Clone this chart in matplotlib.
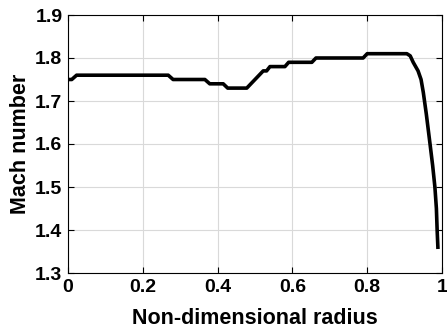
import numpy as np
import matplotlib.pyplot as plt

# radius vs mach number
radius = [0.0, 0.01, 0.023, 0.268, 0.281, 0.366, 0.379, 0.415, 0.427, 0.478,
          0.50, 0.522, 0.531, 0.54, 0.58, 0.59, 0.652, 0.663, 0.789, 0.80,
          0.906, 0.915, 0.923, 0.936, 0.944, 0.95, 0.958, 0.968, 0.975, 0.981,
          0.985, 0.987, 0.989]
mach = [1.75, 1.75, 1.76, 1.76, 1.75, 1.75, 1.74, 1.74, 1.73, 1.73,
        1.75, 1.77, 1.77, 1.78, 1.78, 1.79, 1.79, 1.80, 1.80, 1.81,
        1.81, 1.805, 1.79, 1.77, 1.75, 1.72, 1.67, 1.60, 1.55, 1.50,
        1.45, 1.40, 1.36]

xticks = [0, 0.2, 0.4, 0.6, 0.8, 1]
xticklabels = ['0', '0.2', '0.4', '0.6', '0.8', '1']
yticks = [1.3, 1.4, 1.5, 1.6, 1.7, 1.8, 1.9]

plt.rcParams['font.family'] = ['Liberation Sans', 'DejaVu Sans']
plt.rcParams['font.weight'] = 'bold'

fig = plt.figure(figsize=(4.47, 3.28), dpi=100)
ax = fig.add_axes([68/447, 1 - 273/328, 374/447, 258/328])

ax.plot(radius, mach, color='black', linewidth=2.6)

ax.set_xlim(0, 1)
ax.set_ylim(1.3, 1.9)
ax.set_xticks(xticks)
ax.set_xticklabels(xticklabels)
ax.set_yticks(yticks)
ax.grid(True, color='#d9d9d9', linewidth=0.8)
ax.tick_params(direction='in', top=True, right=True, length=4, width=0.8,
               labelsize=14, pad=4)
for s in ax.spines.values():
    s.set_linewidth(0.8)

ax.set_xlabel('Non-dimensional radius', fontsize=15.5, fontweight='bold', labelpad=9)
ax.set_ylabel('Mach number', fontsize=15.5, fontweight='bold', labelpad=3)

fig.savefig('out.png', dpi=100)
